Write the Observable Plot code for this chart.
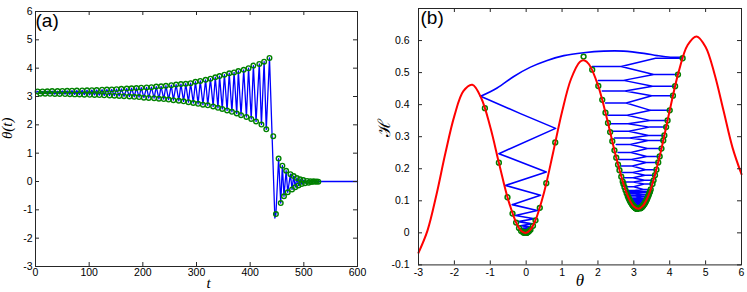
<!DOCTYPE html>
<html><head><meta charset="utf-8">
<script src="https://cdn.jsdelivr.net/npm/d3@7"></script>
<script src="https://cdn.jsdelivr.net/npm/@observablehq/plot@0.6"></script>
<style>
html,body{margin:0;padding:0;background:#fff}
body{width:747px;height:292px;overflow:hidden;position:relative;font-family:"Liberation Sans",Arial,sans-serif}
#pa{position:absolute;left:0;top:0}
#pb{position:absolute;left:370px;top:0}
</style></head>
<body><div id="pa"></div><div id="pb"></div>
<script>
// ---------- panel (a): theta(t) ----------
const tUp = [4,13,22,31,41,50,59,68,77,87,96,105,114,124,133,142,151,160,170,179,188,197,207,216,225,234,243,253,262,271,280,289,298,307,317,326,335,343,352,361,370,378,388,397,406,417,426,436];
const thUp = [3.18,3.18,3.185,3.19,3.19,3.195,3.20,3.205,3.21,3.215,3.22,3.225,3.23,3.24,3.245,3.25,3.26,3.27,3.28,3.29,3.30,3.31,3.32,3.33,3.35,3.36,3.38,3.40,3.42,3.44,3.45,3.47,3.52,3.55,3.59,3.63,3.68,3.72,3.77,3.82,3.85,3.90,3.94,4.00,4.09,4.15,4.23,4.36];
const tLow = [9,18,27,36,45,55,64,73,82,91,101,110,119,128,138,147,156,165,175,184,193,202,211,221,230,239,248,257,267,276,285,294,303,312,321,331,340,348,357,366,375,383,393,402,411,421,430];
const thLow = [3.10,3.10,3.095,3.09,3.09,3.085,3.08,3.075,3.07,3.065,3.06,3.055,3.05,3.04,3.035,3.03,3.02,3.01,3.00,2.99,2.98,2.96,2.95,2.94,2.92,2.91,2.89,2.87,2.85,2.83,2.80,2.77,2.74,2.71,2.69,2.65,2.60,2.56,2.51,2.46,2.40,2.34,2.28,2.21,2.12,2.01,1.84];
const escT = [443], escTh = [1.6], escH = [0.55];
const tAfterUp = [453,460,467,475,481,487,493,499,506,512,518,524];
const thAfterUp = [0.81,0.56,0.38,0.26,0.19,0.12,0.08,0.05,0.02,0.01,0.005,0];
const tAfterLow = [448,457,463,470,478,484,490,496,502,509,515,521,527];
const thAfterLow = [-1.15,-0.76,-0.52,-0.38,-0.28,-0.20,-0.14,-0.09,-0.06,-0.04,-0.02,-0.01,-0.005];
// blue-line-only vertices (start, deepest dip after escape, settled tail)
const lineExtraT = [0,446,530,600];
const lineExtraTh = [3.14,-1.29,0,0];
const xTicksA = [0,100,200,300,400,500,600];
const yTicksA = [-3,-2,-1,0,1,2,3,4,5,6];

// ---------- panel (b): H(theta) ----------
const curveTheta = [-3,-2.75,-2.5,-2.25,-2,-1.75,-1.5,-1.25,-1,-0.75,-0.5,-0.25,-0.125,0,0.125,0.25,0.5,0.75,1,1.25,1.5,1.625,1.75,2,2.25,2.5,2.75,2.875,3,3.14,3.25,3.375,3.5,3.75,4,4.25,4.5,4.75,5,5.25,5.5,5.75,6];
const curveH = [-0.062,0.007,0.119,0.249,0.365,0.442,0.462,0.420,0.330,0.214,0.103,0.025,0.005,0,0.011,0.037,0.127,0.250,0.378,0.480,0.534,0.538,0.526,0.461,0.357,0.239,0.139,0.104,0.082,0.075,0.084,0.108,0.146,0.253,0.382,0.503,0.586,0.613,0.580,0.495,0.381,0.266,0.183];
// H at the turning points (green markers), same order as thUp / thLow
const hUp = [.0770,.0770,.0773,.0778,.0778,.0781,.0785,.0789,.0793,.0799,.0803,.0808,.0814,.0826,.0832,.0838,.0851,.0866,.0881,.0898,.0916,.0933,.0953,.0973,.1017,.1039,.1088,.1142,.1197,.1257,.1288,.1352,.1526,.1639,.1800,.1970,.2196,.2385,.2631,.2883,.3038,.3299,.3509,.3822,.4280,.4575,.4938,.5448];
const hLow = [.0753,.0753,.0754,.0756,.0756,.0756,.0758,.0760,.0763,.0766,.0768,.0771,.0774,.0782,.0785,.0790,.0799,.0809,.0820,.0833,.0845,.0874,.0891,.0908,.0944,.0963,.1005,.1050,.1098,.1150,.1234,.1326,.1424,.1526,.1600,.1752,.1955,.2125,.2347,.2576,.2859,.3145,.3430,.3751,.4150,.4582,.5090];
// blue energy level reached at the left turning points of the pi-well
const levLow = [.0770,.0772,.0776,.0778,.0780,.0783,.0787,.0791,.0796,.0801,.0806,.0811,.0820,.0829,.0835,.0845,.0859,.0874,.0890,.0907,.0925,.0943,.0963,.0995,.1028,.1064,.1115,.1170,.1227,.1273,.1320,.1439,.1583,.1720,.1885,.2083,.2291,.2508,.2757,.2961,.3169,.3404,.3666,.4051,.4428,.4757,.5193];
const hAfterUp = [0.282,0.155,0.078,0.039,0.022,0.010,0.005,0.0025,0.0007,0.0003,0.0001,0];
const hAfterLow = [0.389,0.219,0.111,0.060,0.032,0.015,0.006,0.002,0.0004,-0.0002,-0.0003,-0.0002,-0.0001];
// escape arc over the barrier and the zigzag decay in the 0-well
const arcTheta = [4.35,4.02,3.65,3.28,2.72,2.16,1.60,1.05,0.585,0.12,-0.345,-0.81,-1.27];
const arcH = [0.548,0.548,0.553,0.560,0.567,0.567,0.562,0.553,0.538,0.517,0.488,0.452,0.426];
const zigTheta = [-1.27,-0.16,0.82,-0.76,0.56,-0.58,0.40,-0.39,0.31,-0.30,0.23,-0.22,0.17,-0.16,0.12,-0.11,0.08,-0.07,0.05,-0.04,0.03,-0.02,0];
const zigH = [0.426,0.372,0.326,0.247,0.19,0.148,0.117,0.088,0.07,0.054,0.044,0.035,0.028,0.022,0.018,0.014,0.011,0.009,0.007,0.005,0.004,0.003,0.002];
const xTicksB = [-3,-2,-1,0,1,2,3,4,5,6];
const yTicksB = [-0.1,0,0.1,0.2,0.3,0.4,0.5,0.6];

// ---------- build tables ----------
const circA = [
  ...tUp.map((t,i)=>({t, th:thUp[i]})),
  ...tLow.map((t,i)=>({t, th:thLow[i]})),
  ...escT.map((t,i)=>({t, th:escTh[i]})),
  ...tAfterUp.map((t,i)=>({t, th:thAfterUp[i]})),
  ...tAfterLow.map((t,i)=>({t, th:thAfterLow[i]}))
];
const lineA = [
  ...tUp.map((t,i)=>({t, th:thUp[i]})),
  ...tLow.map((t,i)=>({t, th:thLow[i]})),
  ...tAfterUp.map((t,i)=>({t, th:thAfterUp[i]})),
  ...tAfterLow.map((t,i)=>({t, th:thAfterLow[i]})),
  ...lineExtraT.map((t,i)=>({t, th:lineExtraTh[i]}))
].sort((a,b)=>a.t-b.t);

const curve = curveTheta.map((x,i)=>({x, y:curveH[i]}));
const circB = [
  ...thUp.map((x,i)=>({x, y:hUp[i]})),
  ...thLow.map((x,i)=>({x, y:hLow[i]})),
  ...escTh.map((x,i)=>({x, y:escH[i]})),
  ...thAfterUp.map((x,i)=>({x, y:hAfterUp[i]})),
  ...thAfterLow.map((x,i)=>({x, y:hAfterLow[i]}))
];
// turning points of the pi-well in time order: right (upper) and left (lower) alternate
const seq = [];
tUp.forEach((t,i)=>{ seq.push({t, x:thUp[i], y:hUp[i]}); if(i<tLow.length) seq.push({t:tLow[i], x:thLow[i], y:levLow[i]}); });
seq.sort((a,b)=>a.t-b.t);
const piC = Math.PI, frac = 0.38;
const piPath = [{x:seq[0].x, y:seq[0].y}];
for (let i=0;i<seq.length-1;i++){
  const p=seq[i], q=seq[i+1];
  piPath.push({x:piC+frac*(p.x-piC), y:p.y});
  piPath.push({x:piC+frac*(q.x-piC), y:q.y});
  piPath.push({x:q.x, y:q.y});
}
const arc = arcTheta.map((x,i)=>({x, y:arcH[i]}));
const zig = zigTheta.map((x,i)=>({x, y:zigH[i]}));

// ---------- styling ----------
const BLUE="#0000ff", GREEN="#008000", RED="#ff0000", AX="#262626";
const sans="'Liberation Sans', Arial, Helvetica, sans-serif";
const serif="'Liberation Serif', 'DejaVu Serif', serif";
const fmtA = d => String(d);
const fmtB = d => Math.abs(d)<1e-9 ? "0" : d.toFixed(1);
const TL = 4;

// panel a
const WA=370, HA=292, mLA=35, mRA=13, mTA=11, mBA=26;
const fwA=WA-mLA-mRA, fhA=HA-mTA-mBA;
const plotA = Plot.plot({
  width:WA, height:HA, marginLeft:mLA, marginRight:mRA, marginTop:mTA, marginBottom:mBA,
  x:{domain:[0,600]}, y:{domain:[-3,6]},
  style:{fontFamily:sans, fontSize:"10.5px", background:"transparent", color:"#000", overflow:"visible"},
  marks:[
    Plot.line(lineA,{x:"t",y:"th",stroke:BLUE,strokeWidth:1.3}),
    Plot.dot(circA,{x:"t",y:"th",r:2.3,stroke:GREEN,strokeWidth:1.4,fill:"none"}),
    Plot.frame({stroke:AX,strokeWidth:1}),
    Plot.tickX(xTicksA,{x:d=>d,insetTop:fhA-TL,stroke:AX}),
    Plot.tickX(xTicksA,{x:d=>d,insetBottom:fhA-TL,stroke:AX}),
    Plot.tickY(yTicksA,{y:d=>d,insetRight:fwA-TL,stroke:AX}),
    Plot.tickY(yTicksA,{y:d=>d,insetLeft:fwA-TL,stroke:AX}),
    Plot.axisX(xTicksA,{tickSize:0,tickPadding:2.5,label:null,tickFormat:fmtA}),
    Plot.axisY(yTicksA,{tickSize:0,tickPadding:3,label:null,tickFormat:fmtA}),
    Plot.text(["t"],{frameAnchor:"bottom",dx:12,dy:21,text:d=>d,fontFamily:serif,fontStyle:"italic",fontSize:15}),
    Plot.text(["θ(t)"],{frameAnchor:"left",dx:-28,rotate:-90,text:d=>d,fontFamily:serif,fontStyle:"italic",fontSize:15}),
    Plot.text(["(a)"],{frameAnchor:"top-left",dx:0,dy:2,text:d=>d,textAnchor:"start",lineAnchor:"top",fontSize:19,fontFamily:sans})
  ]
});
document.getElementById("pa").appendChild(plotA);

// panel b
const WB=377, HB=292, mLB=48, mRB=6, mTB=8, mBB=27.6;
const fwB=WB-mLB-mRB, fhB=HB-mTB-mBB;
const plotB = Plot.plot({
  width:WB, height:HB, marginLeft:mLB, marginRight:mRB, marginTop:mTB, marginBottom:mBB,
  x:{domain:[-3,6]}, y:{domain:[-0.1,0.7]},
  style:{fontFamily:sans, fontSize:"10.5px", background:"transparent", color:"#000", overflow:"visible"},
  marks:[
    Plot.line(piPath,{x:"x",y:"y",stroke:BLUE,strokeWidth:1.5}),
    Plot.line(arc,{x:"x",y:"y",stroke:BLUE,strokeWidth:1.6,curve:"catmull-rom"}),
    Plot.line(zig,{x:"x",y:"y",stroke:BLUE,strokeWidth:1.6}),
    Plot.dot(circB,{x:"x",y:"y",r:2.4,stroke:GREEN,strokeWidth:1.5,fill:"none"}),
    Plot.line(curve,{x:"x",y:"y",stroke:RED,strokeWidth:2,curve:"catmull-rom"}),
    Plot.frame({stroke:AX,strokeWidth:1}),
    Plot.tickX(xTicksB,{x:d=>d,insetTop:fhB-TL,stroke:AX}),
    Plot.tickX(xTicksB,{x:d=>d,insetBottom:fhB-TL,stroke:AX}),
    Plot.tickY(yTicksB,{y:d=>d,insetRight:fwB-TL,stroke:AX}),
    Plot.tickY(yTicksB,{y:d=>d,insetLeft:fwB-TL,stroke:AX}),
    Plot.axisX(xTicksB,{tickSize:0,tickPadding:4,label:null,tickFormat:fmtA}),
    Plot.axisY(yTicksB,{tickSize:0,tickPadding:9,label:null,tickFormat:fmtB}),
    Plot.text(["θ"],{frameAnchor:"bottom",dy:21,text:d=>d,fontFamily:serif,fontStyle:"italic",fontSize:17}),
    Plot.text(["ℋ"],{frameAnchor:"left",dx:-34,rotate:-90,text:d=>d,fontFamily:"'DejaVu Serif', serif",fontSize:17}),
    Plot.text(["(b)"],{frameAnchor:"top-left",dx:2,dy:2,text:d=>d,textAnchor:"start",lineAnchor:"top",fontSize:19,fontFamily:sans})
  ]
});
document.getElementById("pb").appendChild(plotB);
</script>
</body></html>
